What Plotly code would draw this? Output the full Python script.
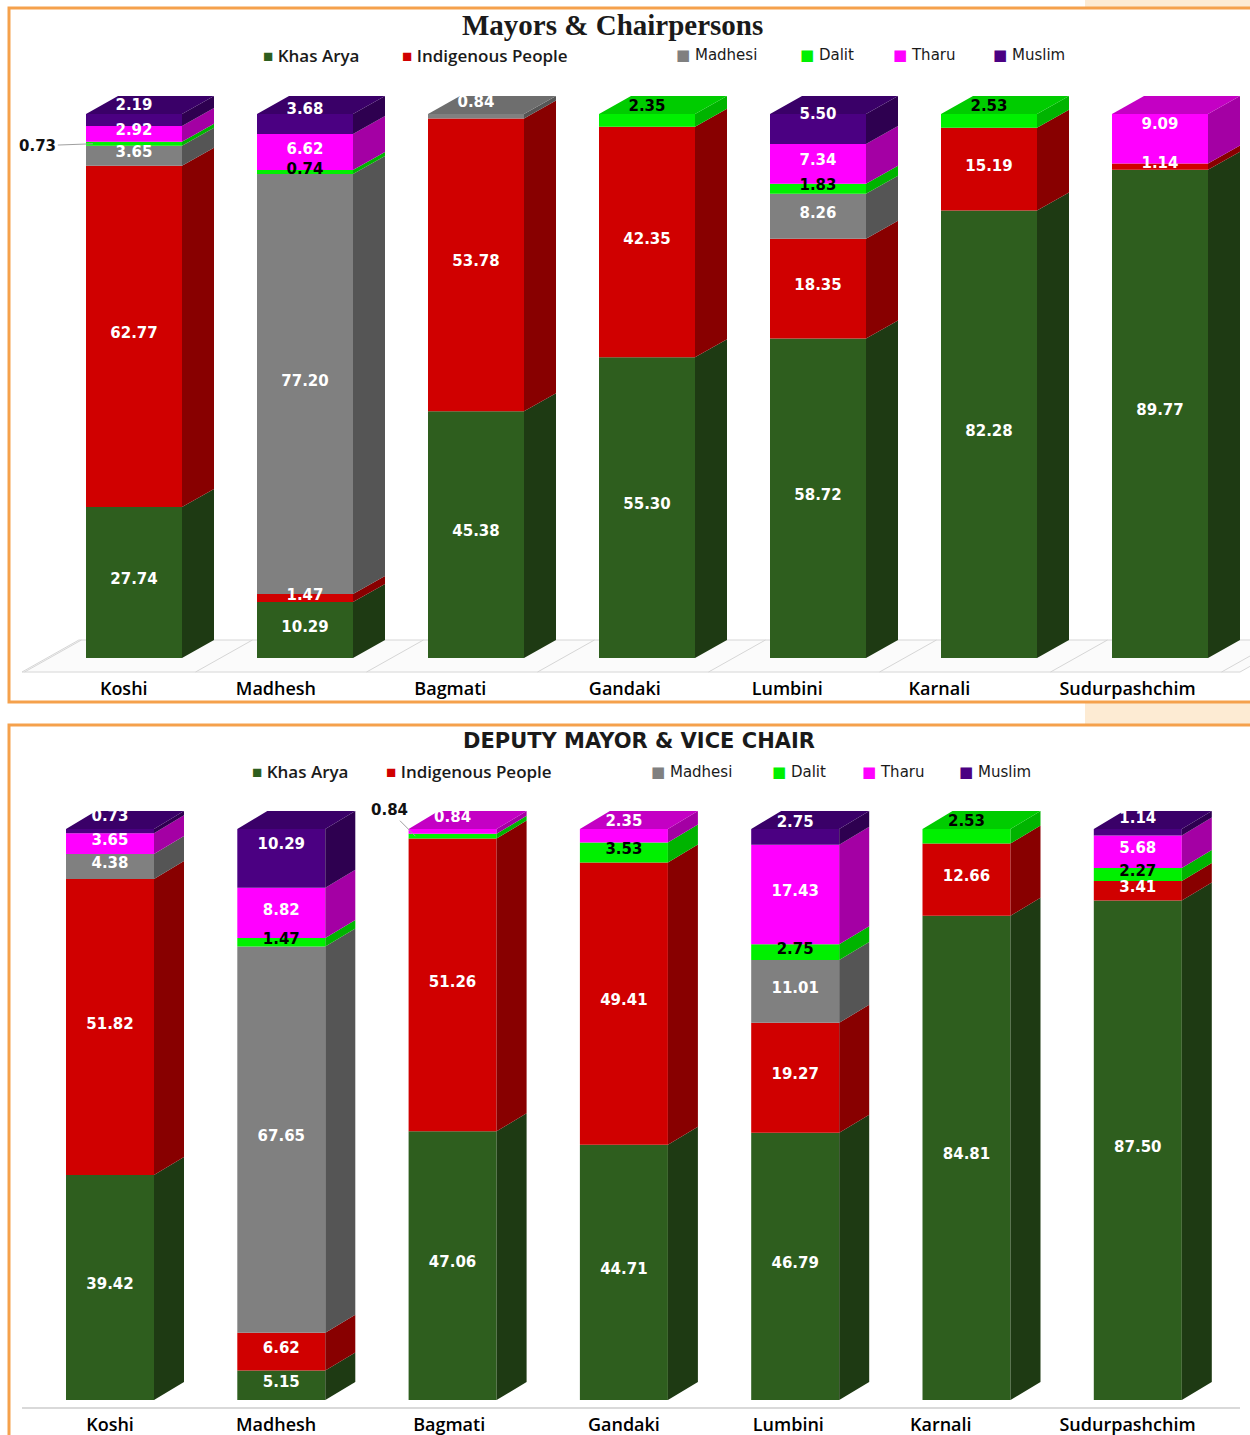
import numpy as np
import plotly.graph_objects as go

regions = ["Koshi", "Madhesh", "Bagmati", "Gandaki", "Lumbini", "Karnali", "Sudurpashchim"]
groups = ["Khas Arya", "Indigenous People", "Madhesi", "Dalit", "Tharu", "Muslim"]

# Mayors & Chairpersons (%)
mayor_khas_arya = [27.74, 10.29, 45.38, 55.30, 58.72, 82.28, 89.77]
mayor_indigenous = [62.77, 1.47, 53.78, 42.35, 18.35, 15.19, 1.14]
mayor_madhesi = [3.65, 77.20, 0.84, 0, 8.26, 0, 0]
mayor_dalit = [0.73, 0.74, 0, 2.35, 1.83, 2.53, 0]
mayor_tharu = [2.92, 6.62, 0, 0, 7.34, 0, 9.09]
mayor_muslim = [2.19, 3.68, 0, 0, 5.50, 0, 0]

# Deputy Mayor & Vice Chair (%)
deputy_khas_arya = [39.42, 5.15, 47.06, 44.71, 46.79, 84.81, 87.50]
deputy_indigenous = [51.82, 6.62, 51.26, 49.41, 19.27, 12.66, 3.41]
deputy_madhesi = [4.38, 67.65, 0, 0, 11.01, 0, 0]
deputy_dalit = [0, 1.47, 0.84, 3.53, 2.75, 2.53, 2.27]
deputy_tharu = [3.65, 8.82, 0.84, 2.35, 17.43, 0, 5.68]
deputy_muslim = [0.73, 10.29, 0, 0, 2.75, 0, 1.14]

front_colors = ["#2E5E1E", "#D00000", "#808080", "#00F000", "#FF00FF", "#4B0082"]
side_colors = ["#1E3A13", "#880000", "#555555", "#00B400", "#A400A4", "#2E0050"]
top_colors = ["#26501A", "#A00000", "#6E6E6E", "#00CC00", "#C400C4", "#3A0068"]
label_colors = ["white", "white", "white", "black", "white", "white"]

W, H = 1250, 1435


def px(x):
    return x / W


def py(y):
    return 1 - y / H


# pixel geometry of each panel
top_geom = dict(c0=134, step=171, bar=96, depth=32, rise=18, y0=658, ppu=5.44,
                left=14, right=1250, top=88, bottom=676,
                tick_shift=[-0.06, -0.17, -0.15, -0.13, -0.18, -0.29, -0.19])
bot_geom = dict(c0=110, step=171.3, bar=88, depth=30, rise=18, y0=1400, ppu=5.71,
                left=14, right=1250, top=800, bottom=1412,
                tick_shift=[0, -0.03, -0.02, 0, -0.04, -0.15, -0.06])

fig = go.Figure()


def path(xs, ys):
    return "M " + " L ".join("%f,%f" % (a, b) for a, b in zip(xs, ys)) + " Z"


def draw_panel(stack, g, n, callouts, floor3d):
    xa, ya = "x" + n, "y" + n
    w = g["bar"] / g["step"]
    dx = g["depth"] / g["step"]
    dy = g["rise"] / g["ppu"]
    vals = np.array(stack, dtype=float)
    tops = np.cumsum(vals, axis=0)
    bases = tops - vals
    xs = np.arange(len(regions))
    last = [max(s for s in range(len(groups)) if vals[s, i] > 0) for i in xs]

    # floor, drawn under the bars
    yfront = -(g["bottom"] - 4 - g["y0"]) / g["ppu"]
    xl = (g["left"] + 8 - g["c0"]) / g["step"]
    xr = (g["right"] - 10 - g["c0"]) / g["step"]
    if floor3d:
        ext = (dy - yfront) * dx / dy
        fig.add_shape(type="path", xref=xa, yref=ya, layer="below",
                      path=path([xl, xr, xr + ext, xl + ext], [yfront, yfront, dy, dy]),
                      fillcolor="#FBFBFB", line=dict(color="#D6D6D6", width=1))
        for b in np.arange(len(regions) + 1) - 0.64:
            fig.add_shape(type="line", xref=xa, yref=ya, layer="below",
                          x0=b, y0=yfront, x1=b + ext, y1=dy,
                          line=dict(color="#D6D6D6", width=1))
    else:
        fig.add_shape(type="line", xref=xa, yref=ya, layer="below",
                      x0=xl, y0=yfront, x1=xr, y1=yfront,
                      line=dict(color="#D9D9D9", width=2))

    for s in range(len(groups)):
        fig.add_trace(go.Bar(x=xs, y=vals[s], base=bases[s], width=w, name=groups[s],
                             marker=dict(color=front_colors[s], line=dict(width=0)),
                             hoverinfo="skip", xaxis=xa, yaxis=ya, showlegend=False))
        sx, sy, tx, ty = [], [], [], []
        for i in xs:
            if vals[s, i] <= 0:
                continue
            b, t = bases[s, i], tops[s, i]
            r = i + w / 2
            sx += [r, r + dx, r + dx, r, r, None]
            sy += [b, b + dy, t + dy, t, b, None]
            if last[i] == s:
                l = i - w / 2
                tx += [l, l + dx, r + dx, r, l, None]
                ty += [t, t + dy, t + dy, t, t, None]
        fig.add_trace(go.Scatter(x=sx, y=sy, mode="lines", fill="toself",
                                 fillcolor=side_colors[s], line=dict(width=0),
                                 hoverinfo="skip", xaxis=xa, yaxis=ya, showlegend=False))
        if tx:
            fig.add_trace(go.Scatter(x=tx, y=ty, mode="lines", fill="toself",
                                     fillcolor=top_colors[s], line=dict(width=0),
                                     hoverinfo="skip", xaxis=xa, yaxis=ya, showlegend=False))

    # value labels
    lx, ly, lt, lc = [], [], [], []
    for s in range(len(groups)):
        for i in xs:
            v = vals[s, i]
            if v <= 0:
                continue
            mid = (bases[s, i] + tops[s, i]) / 2
            if (s, i) in callouts:
                ax, ay = callouts[(s, i)]
                fig.add_annotation(x=i - w / 2 + 0.04, y=mid, xref=xa, yref=ya,
                                   text="<b>%.2f</b>" % v, showarrow=True, arrowhead=0,
                                   arrowwidth=1, arrowcolor="#A0A0A0", ax=ax, ay=ay,
                                   font=dict(family="DejaVu Sans", size=15, color="#111111"))
                continue
            shift = 0.75 * dy if last[i] == s else 0.12 * dy
            lx.append(i)
            ly.append(mid + shift)
            lt.append("%.2f" % v)
            lc.append(label_colors[s])
    fig.add_trace(go.Scatter(x=lx, y=ly, text=lt, mode="text",
                             textfont=dict(family="DejaVu Sans", size=15, color=lc, weight="bold"),
                             hoverinfo="skip", xaxis=xa, yaxis=ya, showlegend=False))

    xaxis = dict(domain=[px(g["left"]), px(g["right"])],
                 range=[(g["left"] - g["c0"]) / g["step"], (g["right"] - g["c0"]) / g["step"]],
                 tickvals=[i + d for i, d in zip(xs, g["tick_shift"])], ticktext=regions,
                 tickfont=dict(family="Open Sans", size=18, color="black", weight=600),
                 showgrid=False, zeroline=False, showline=False, ticks="", anchor=ya)
    yaxis = dict(domain=[py(g["bottom"]), py(g["top"])],
                 range=[-(g["bottom"] - g["y0"]) / g["ppu"], (g["y0"] - g["top"]) / g["ppu"]],
                 visible=False, anchor=xa)
    fig.update_layout(**{"xaxis" + n: xaxis, "yaxis" + n: yaxis})


mayor_stack = [mayor_khas_arya, mayor_indigenous, mayor_madhesi, mayor_dalit, mayor_tharu, mayor_muslim]
deputy_stack = [deputy_khas_arya, deputy_indigenous, deputy_madhesi, deputy_dalit, deputy_tharu, deputy_muslim]

draw_panel(mayor_stack, top_geom, "", {(3, 0): (-55, 2)}, True)
draw_panel(deputy_stack, bot_geom, "2", {(3, 2): (-26, -26)}, False)

# titles
fig.add_annotation(x=px(612), y=py(25), xref="paper", yref="paper", showarrow=False,
                   xanchor="center", yanchor="middle",
                   text="<b>Mayors & Chairpersons</b>",
                   font=dict(family="Liberation Serif", size=29, color="#1A1A1A"))
fig.add_annotation(x=px(639), y=py(741), xref="paper", yref="paper", showarrow=False,
                   xanchor="center", yanchor="middle",
                   text="<b>DEPUTY MAYOR & VICE CHAIR</b>",
                   font=dict(family="DejaVu Sans", size=21, color="#1A1A1A"))

# legends
legend_rows = [(55, [261, 400, 674, 798, 891, 991]), (772, [250, 384, 649, 770, 860, 957])]
for ly, lxs in legend_rows:
    for s, name in enumerate(groups):
        big = s < 2
        fig.add_annotation(x=px(lxs[s]), y=py(ly), xref="paper", yref="paper", showarrow=False,
                           xanchor="left", yanchor="middle",
                           text="<span style='color:%s'>■</span> %s" % (front_colors[s], name),
                           font=dict(family="Open Sans" if big else "DejaVu Sans",
                                     size=17 if big else 15, color="#1A1A1A",
                                     weight=600 if big else 400))

# frames
orange = "#F5A14C"
peach = "#FDEBD3"
fig.add_shape(type="rect", xref="paper", yref="paper", x0=px(1085), x1=1.0, y0=py(7), y1=1.0,
              fillcolor=peach, line=dict(width=0), layer="below")
fig.add_shape(type="rect", xref="paper", yref="paper", x0=px(1085), x1=1.0, y0=py(724), y1=py(703),
              fillcolor=peach, line=dict(width=0), layer="below")
fig.add_shape(type="rect", xref="paper", yref="paper", x0=px(9), x1=px(1262), y0=py(702), y1=py(8),
              line=dict(color=orange, width=3))
fig.add_shape(type="rect", xref="paper", yref="paper", x0=px(9), x1=px(1262), y0=py(1450), y1=py(725),
              line=dict(color=orange, width=3))

fig.update_layout(width=W, height=H, autosize=False, barmode="overlay",
                  margin=dict(l=0, r=0, t=0, b=0),
                  paper_bgcolor="white", plot_bgcolor="rgba(0,0,0,0)", showlegend=False)

fig.write_html("out.html", config={"displayModeBar": False},
               post_script="document.body.style.margin='0';")
